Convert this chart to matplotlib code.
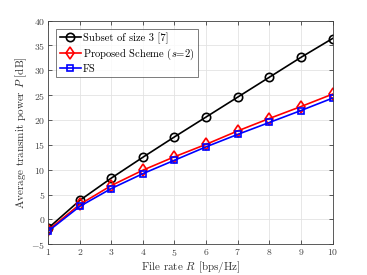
import matplotlib

matplotlib.use("Agg")
import matplotlib.pyplot as plt
import numpy as np

rate = [1, 2, 3, 4, 5, 6, 7, 8, 9, 10]
subset3 = [-1.8, 3.8, 8.3, 12.5, 16.6, 20.6, 24.6, 28.6, 32.6, 36.4]
proposed = [-2.2, 3.0, 6.8, 9.9, 12.6, 15.1, 17.8, 20.3, 22.7, 25.2]
fs = [-2.4, 2.6, 6.2, 9.2, 11.9, 14.6, 17.1, 19.5, 21.9, 24.4]

labels = ["Subset of size 3 [7]", r"Proposed Scheme ($s$=2)", "FS"]

plt.rcParams.update({
    "font.family": "serif",
    "font.serif": ["cmr10", "DejaVu Serif"],
    "mathtext.fontset": "cm",
    "axes.formatter.use_mathtext": True,
    "font.size": 8,
})

fig = plt.figure(figsize=(3.67, 2.75), dpi=100)
ax = fig.add_axes([0.131, 0.112, 0.775, 0.813])

ax.plot(rate, subset3, color="black", lw=1.2, marker="o", ms=6, mfc="none", mew=1.2, label=labels[0])
ax.plot(rate, proposed, color="red", lw=1.2, marker="d", ms=6, mfc="none", mew=1.2, label=labels[1])
ax.plot(rate, fs, color="blue", lw=1.2, marker="s", ms=5, mfc="none", mew=1.2, label=labels[2])

ax.set_xlim(1, 10)
ax.set_ylim(-5, 40)
ax.set_xticks(np.arange(1, 11))
ax.set_yticks(np.arange(-5, 41, 5))
ax.grid(True, color="#e3e3e3", lw=0.6)
ax.set_axisbelow(True)
ax.tick_params(direction="in", length=3, width=0.6, labelsize=7, colors="#404040",
               top=True, right=True, pad=2)
for s in ax.spines.values():
    s.set_color("#404040")
    s.set_linewidth(0.6)

ax.set_xlabel(r"File rate $R$ [bps/Hz]", fontsize=8, color="#333333", labelpad=0.5)
ax.set_ylabel(r"Average transmit power $P$ [dB]", fontsize=8, color="#333333", labelpad=2)

leg = ax.legend(loc="upper left", fontsize=7.6, frameon=True, fancybox=False,
                edgecolor="#404040", handlelength=2.0, handletextpad=0.2,
                borderpad=0.35, labelspacing=0.25, borderaxespad=0.75)
leg.get_frame().set_linewidth(0.6)

fig.savefig("out.png", dpi=100)
